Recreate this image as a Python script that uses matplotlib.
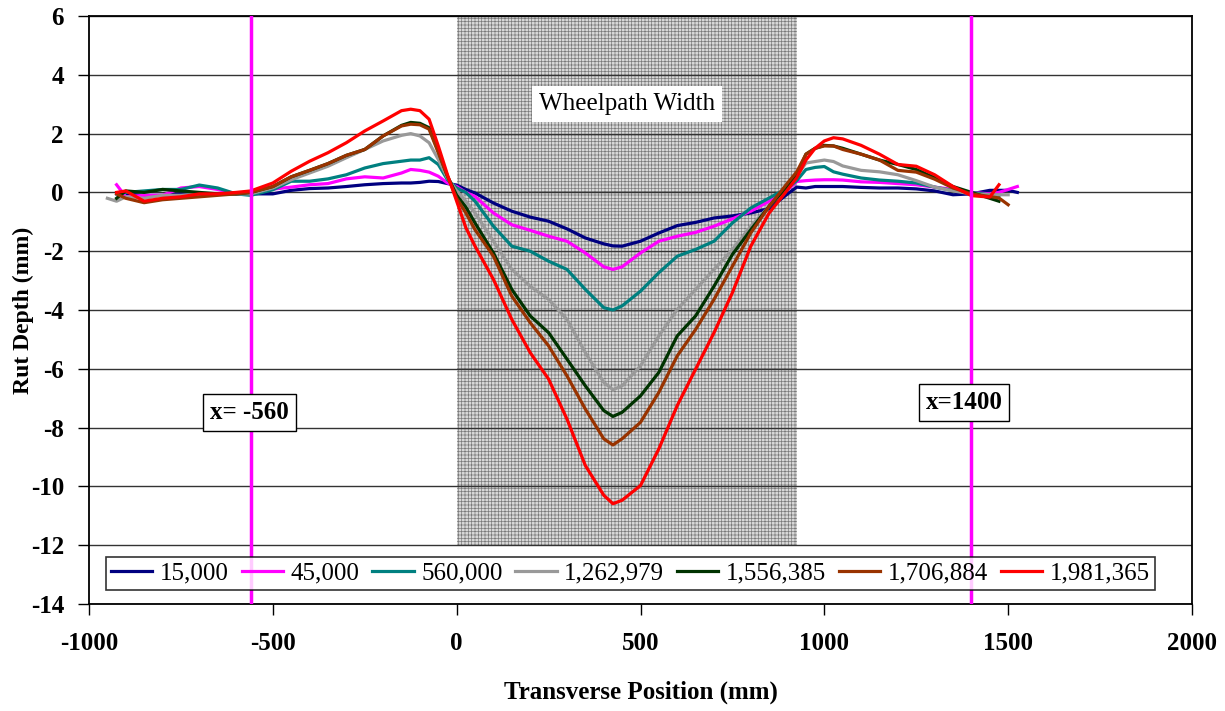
import numpy as np
import matplotlib
matplotlib.use('Agg')
import matplotlib.pyplot as plt

plt.rcParams['font.family'] = ['Liberation Serif', 'DejaVu Serif']
plt.rcParams['axes.unicode_minus'] = False
plt.rcParams['hatch.linewidth'] = 0.5
plt.rcParams['hatch.color'] = '#7a7a7a'

nan = np.nan

# transverse position (mm), shared by all passes
x = [-950, -925, -900, -850, -800, -750, -700, -650, -600, -560,
     -500, -450, -400, -350, -300, -250, -200, -150, -125, -100,
     -75, -50, -25, 0, 25, 50, 100, 150, 200, 250,
     300, 350, 400, 425, 450, 500, 550, 600, 650, 700,
     750, 800, 850, 900, 925, 950, 975, 1000, 1025, 1050,
     1100, 1150, 1200, 1250, 1300, 1350, 1400, 1450, 1475, 1500,
     1525]

# rut depth (mm) per number of passes
rut_15000 = [nan, -0.05, -0.05, -0.10, -0.10, -0.05, -0.05, -0.05, -0.05, -0.05,
             -0.05, 0.07, 0.13, 0.15, 0.20, 0.26, 0.30, 0.32, 0.32, 0.34,
             0.38, 0.37, 0.30, 0.25, 0.10, -0.02, -0.36, -0.64, -0.84, -0.98,
             -1.24, -1.55, -1.75, -1.82, -1.83, -1.66, -1.38, -1.13, -1.02, -0.87,
             -0.80, -0.70, -0.55, -0.05, 0.18, 0.15, 0.20, 0.20, 0.20, 0.20,
             0.17, 0.15, 0.15, 0.12, 0.05, -0.08, -0.05, 0.07, 0.07, 0.07,
             0.00]
rut_45000 = [nan, 0.26, -0.15, -0.10, -0.10, 0.15, 0.20, 0.10, -0.05, -0.05,
             0.11, 0.18, 0.26, 0.30, 0.46, 0.53, 0.49, 0.66, 0.78, 0.75,
             0.69, 0.55, 0.32, 0.20, 0.00, -0.14, -0.70, -1.10, -1.29, -1.49,
             -1.66, -2.06, -2.53, -2.62, -2.53, -2.06, -1.66, -1.49, -1.36, -1.15,
             -0.90, -0.64, -0.30, 0.09, 0.37, 0.40, 0.42, 0.43, 0.43, 0.42,
             0.36, 0.34, 0.30, 0.26, 0.18, 0.10, 0.00, -0.05, 0.00, 0.10,
             0.20]
rut_560000 = [nan, nan, 0.00, 0.05, 0.10, 0.10, 0.25, 0.15, -0.05, -0.10,
              0.09, 0.38, 0.38, 0.46, 0.60, 0.83, 0.98, 1.06, 1.10, 1.10,
              1.18, 0.95, 0.43, 0.15, 0.00, -0.30, -1.15, -1.83, -2.00, -2.34,
              -2.62, -3.30, -3.92, -4.00, -3.86, -3.36, -2.73, -2.17, -1.94, -1.66,
              -1.04, -0.53, -0.19, 0.15, 0.40, 0.78, 0.85, 0.88, 0.70, 0.62,
              0.49, 0.42, 0.38, 0.32, 0.18, 0.06, 0.00, -0.08, -0.10, nan,
              nan]
rut_1262979 = [-0.20, -0.30, -0.15, -0.20, -0.10, -0.10, -0.05, -0.05, -0.05, -0.05,
               0.15, 0.43, 0.66, 0.89, 1.18, 1.46, 1.75, 1.94, 2.00, 1.92,
               1.69, 1.12, 0.49, 0.05, -0.30, -0.70, -1.66, -2.62, -3.19, -3.64,
               -4.32, -5.45, -6.46, -6.71, -6.58, -5.90, -4.88, -3.98, -3.30, -2.62,
               -1.94, -1.15, -0.47, 0.20, 0.55, 1.00, 1.05, 1.10, 1.05, 0.90,
               0.75, 0.70, 0.60, 0.40, 0.18, 0.05, -0.05, -0.08, -0.08, -0.08,
               nan]
rut_1556385 = [nan, -0.20, 0.05, 0.00, 0.10, 0.05, 0.00, -0.05, -0.05, 0.00,
               0.20, 0.53, 0.75, 0.98, 1.26, 1.46, 1.92, 2.28, 2.38, 2.35,
               2.20, 1.40, 0.55, -0.10, -0.50, -1.04, -2.06, -3.30, -4.20, -4.77,
               -5.67, -6.58, -7.42, -7.62, -7.48, -6.92, -6.12, -4.88, -4.20, -3.19,
               -2.11, -1.27, -0.47, 0.20, 0.60, 1.30, 1.50, 1.60, 1.58, 1.50,
               1.30, 1.10, 0.95, 0.78, 0.50, 0.20, 0.00, -0.20, -0.30, nan,
               nan]
rut_1706884 = [nan, -0.05, -0.20, -0.35, -0.25, -0.20, -0.15, -0.10, -0.05, 0.00,
               0.20, 0.53, 0.75, 0.98, 1.26, 1.46, 1.92, 2.26, 2.32, 2.30,
               2.15, 1.35, 0.55, -0.20, -0.70, -1.27, -2.17, -3.53, -4.43, -5.22,
               -6.24, -7.37, -8.38, -8.59, -8.38, -7.82, -6.80, -5.56, -4.66, -3.64,
               -2.51, -1.38, -0.47, 0.32, 0.70, 1.30, 1.50, 1.58, 1.58, 1.46,
               1.30, 1.10, 0.75, 0.69, 0.45, 0.15, -0.05, -0.14, -0.19, -0.42,
               nan]
rut_1981365 = [nan, 0.00, 0.05, -0.30, -0.20, -0.15, -0.05, -0.05, 0.00, 0.05,
               0.32, 0.72, 1.06, 1.35, 1.69, 2.09, 2.43, 2.78, 2.83, 2.78,
               2.49, 1.58, 0.60, -0.30, -1.20, -1.83, -2.96, -4.32, -5.45, -6.35,
               -7.71, -9.29, -10.30, -10.59, -10.47, -9.97, -8.72, -7.25, -6.01, -4.77,
               -3.41, -1.83, -0.70, 0.09, 0.50, 1.10, 1.50, 1.75, 1.86, 1.82,
               1.60, 1.30, 0.95, 0.89, 0.60, 0.20, -0.11, -0.16, 0.26, nan,
               nan]

series = [rut_15000, rut_45000, rut_560000, rut_1262979, rut_1556385, rut_1706884, rut_1981365]
labels = ['15,000', '45,000', '560,000', '1,262,979', '1,556,385', '1,706,884', '1,981,365']
colors = ['#000080', '#ff00ff', '#008080', '#999999', '#003300', '#993300', '#ff0000']

wheelpath = [0, 925]
limits = [-560, 1400]

fig = plt.figure(figsize=(12.25, 7.11), dpi=100)
ax = fig.add_axes([89 / 1225, 107 / 711, 1103 / 1225, 588 / 711])

ax.fill_between(wheelpath, -12, 6, facecolor='#d8d8d8', hatch='+++++',
                edgecolor='#7a7a7a', linewidth=0, zorder=1)
ax.text(463, 3.0, 'Wheelpath Width', fontsize=18, ha='center', va='center',
        bbox=dict(facecolor='white', edgecolor='none', pad=5), zorder=5)

for y, lab, c in zip(series, labels, colors):
    ax.plot(x, y, color=c, lw=2.3, label=lab, zorder=3)

for xv in limits:
    ax.axvline(xv, color='#ff00ff', lw=2.5, zorder=4)

box = dict(facecolor='white', edgecolor='black', lw=1, pad=5)
ax.text(-563, -7.47, 'x= -560', fontsize=18, fontweight='bold', ha='center',
        va='center', bbox=box, zorder=6)
ax.text(1380, -7.15, 'x=1400', fontsize=18, fontweight='bold', ha='center',
        va='center', bbox=box, zorder=6)

ax.set_xlim(-1000, 2000)
ax.set_ylim(-14, 6)
ax.set_xticks(np.arange(-1000, 2001, 500))
ax.set_yticks(np.arange(-14, 7, 2))
ax.set_axisbelow('line')
ax.yaxis.grid(True, color='#333333', lw=1)
ax.tick_params(axis='both', direction='out', length=8, width=1, labelsize=18)
ax.tick_params(axis='x', pad=12)
ax.tick_params(axis='y', pad=10)
for t in ax.get_xticklabels() + ax.get_yticklabels():
    t.set_fontweight('bold')
for s in ax.spines.values():
    s.set_linewidth(1.3)

ax.set_xlabel('Transverse Position (mm)', fontsize=18, fontweight='bold')
ax.xaxis.set_label_coords(0.5, -0.13)
ax.set_ylabel('Rut Depth (mm)', fontsize=17, fontweight='bold')
ax.yaxis.set_label_coords(-0.05, 0.5)

leg = ax.legend(loc='lower center', bbox_to_anchor=(0.491, 0.024), ncol=7,
                fontsize=18, frameon=True, fancybox=False, borderaxespad=0,
                handlelength=1.65, handletextpad=0.3, columnspacing=0.52,
                borderpad=0.2)
leg.get_frame().set_edgecolor('black')
leg.get_frame().set_linewidth(1.2)
leg.set_zorder(10)

fig.savefig('out.png', dpi=100)
